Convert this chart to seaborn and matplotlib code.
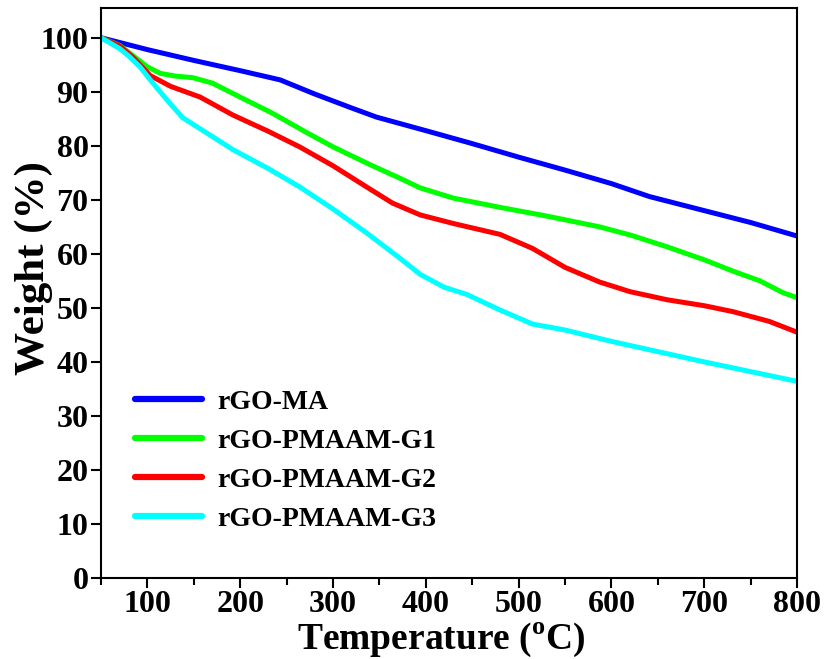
import numpy as np
import pandas as pd
import matplotlib
matplotlib.use("Agg")
import matplotlib.pyplot as plt
from matplotlib.ticker import MultipleLocator
import seaborn as sns

sns.set_theme(style="ticks")
plt.rcParams['font.family'] = ['Liberation Serif', 'DejaVu Serif']
plt.rcParams['font.weight'] = 'bold'
plt.rcParams['text.color'] = 'black'
plt.rcParams['axes.labelcolor'] = 'black'
plt.rcParams['xtick.color'] = 'black'
plt.rcParams['ytick.color'] = 'black'
plt.rcParams['mathtext.fontset'] = 'custom'
plt.rcParams['mathtext.rm'] = 'Liberation Serif:bold'

names = ["rGO-MA", "rGO-PMAAM-G1", "rGO-PMAAM-G2", "rGO-PMAAM-G3"]
colors = ["#0000FF", "#00FF00", "#FF0000", "#00FFFF"]

t_ma = [50, 100, 150, 200, 243, 280, 320, 347, 400, 450, 500, 550, 600, 641, 700, 750, 800]
w_ma = [100, 97.8, 95.8, 93.9, 92.2, 89.6, 87.0, 85.3, 82.8, 80.4, 77.9, 75.5, 73.0, 70.6, 68.0, 65.8, 63.3]

t_g1 = [50, 70, 85, 100, 114, 130, 149, 170, 200, 235, 270, 300, 340, 372, 394, 430, 480, 530, 587, 620, 660, 700, 731, 760, 785, 800]
w_g1 = [100, 98.6, 96.6, 94.6, 93.4, 92.9, 92.6, 91.6, 89.0, 86.0, 82.6, 79.8, 76.5, 74.0, 72.2, 70.3, 68.6, 67.0, 65.0, 63.5, 61.3, 58.9, 56.8, 55.0, 52.8, 51.9]

t_g2 = [50, 70, 85, 103, 125, 157, 192, 230, 264, 300, 336, 364, 394, 430, 480, 515, 550, 587, 620, 660, 700, 731, 770, 800]
w_g2 = [100, 98.5, 96.3, 93.0, 91.0, 89.0, 85.7, 82.7, 79.8, 76.3, 72.4, 69.4, 67.2, 65.6, 63.6, 61.0, 57.5, 54.8, 53.0, 51.5, 50.4, 49.3, 47.5, 45.5]

t_g3 = [50, 70, 80, 92, 105, 121, 138, 160, 192, 230, 264, 300, 336, 372, 394, 420, 444, 480, 515, 550, 600, 650, 700, 750, 800]
w_g3 = [100, 98.0, 96.6, 94.6, 91.8, 88.5, 85.2, 82.8, 79.3, 75.8, 72.4, 68.3, 63.9, 59.2, 56.2, 53.8, 52.5, 49.6, 47.0, 45.9, 43.8, 41.9, 40.0, 38.2, 36.4]

frames = []
for nm, t, w in zip(names, [t_ma, t_g1, t_g2, t_g3], [w_ma, w_g1, w_g2, w_g3]):
    frames.append(pd.DataFrame({"Temperature": t, "Weight": w, "Sample": nm}))
df = pd.concat(frames, ignore_index=True)

fig = plt.figure(figsize=(8.26, 6.59), dpi=100)
ax = fig.add_axes([101/826, 1 - 578/659, (797-101)/826, (578-8)/659])

sns.lineplot(data=df, x="Temperature", y="Weight", hue="Sample", hue_order=names,
             palette=colors, linewidth=3.6, ax=ax, sort=False, estimator=None)

ax.set_xlim(50, 800)
ax.set_ylim(0, 105.5)
ax.xaxis.set_major_locator(MultipleLocator(100))
ax.xaxis.set_minor_locator(MultipleLocator(50))
ax.yaxis.set_major_locator(MultipleLocator(10))
ax.tick_params(axis='both', which='major', direction='out', length=7, width=1.5,
               labelsize=23, colors='black', pad=2)
ax.tick_params(axis='x', which='minor', direction='out', length=5, width=1.5)
ax.tick_params(top=False, right=False)
for lab in ax.get_xticklabels() + ax.get_yticklabels():
    lab.set_fontweight('bold')
for s in ax.spines.values():
    s.set_visible(True)
    s.set_color('black')
    s.set_linewidth(1.5)

ax.set_xlabel(r"Temperature ($^{\mathregular{o}}$C)", fontsize=27, fontweight='bold')
ax.set_ylabel("Weight (%)", fontsize=31, fontweight='bold')
ax.xaxis.set_label_coords(0.489, -0.075)
ax.yaxis.set_label_coords(-0.069, 0.544)

leg = ax.legend(loc='upper left', bbox_to_anchor=(0.049, 0.331), frameon=False,
                borderaxespad=0, borderpad=0,
                prop={'family': 'Liberation Serif', 'weight': 'bold', 'size': 20},
                handlelength=2.4, handletextpad=0.54, labelspacing=0.49)
for h in leg.get_lines():
    h.set_linewidth(4.5)

fig.savefig("out.png", dpi=100)
